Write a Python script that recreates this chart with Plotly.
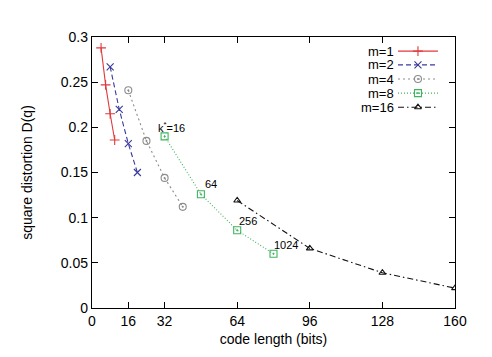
import plotly.graph_objects as go

# ---- data ----
names = ["m=1", "m=2", "m=4", "m=8", "m=16"]
x_m1 = [4, 6, 8, 10]
y_m1 = [0.288, 0.247, 0.215, 0.186]
x_m2 = [8, 12, 16, 20]
y_m2 = [0.267, 0.220, 0.182, 0.150]
x_m4 = [16, 24, 32, 40]
y_m4 = [0.241, 0.185, 0.144, 0.112]
x_m8 = [32, 48, 64, 80]
y_m8 = [0.190, 0.126, 0.086, 0.060]
x_m16 = [64, 96, 128, 160]
y_m16 = [0.119, 0.066, 0.039, 0.022]
k_labels = ["k<sup>*</sup>=16", "64", "256", "1024"]
x_ticks = [0, 16, 32, 64, 96, 128, 160]
y_ticks = [0, 0.05, 0.1, 0.15, 0.2, 0.25, 0.3]
y_tick_text = ["0", "0.05", "0.1", "0.15", "0.2", "0.25", "0.3"]

xs = [x_m1, x_m2, x_m4, x_m8, x_m16]
ys = [y_m1, y_m2, y_m4, y_m8, y_m16]
colors = ["#e0393b", "#3a3a9e", "#8c8c8c", "#3fb45f", "#111111"]
dashes = ["solid", "5px,3px", "2px,3px", "1px,2px", "6px,3px,1.5px,3px"]
symbols = ["cross-thin-open", "x-thin-open", "circle-open-dot", "square-open-dot", "triangle-up-open"]
msizes = [7, 7, 7, 7, 6]
font = "Liberation Sans, Arial, sans-serif"

fig = go.Figure()
for n, x, y, c, d, s, ms in zip(names, xs, ys, colors, dashes, symbols, msizes):
    fig.add_trace(go.Scatter(
        x=x, y=y, name=n, mode="lines+markers",
        line=dict(color=c, width=1.1, dash=d),
        marker=dict(symbol=s, size=ms, color=c, line=dict(color=c, width=1.1)),
        showlegend=False,
    ))

# custom gnuplot-style legend (text left, sample right)
row_y = [0.948, 0.897, 0.845, 0.793, 0.741]
for n, c, d, s, ms, ry in zip(names, colors, dashes, symbols, msizes, row_y):
    fig.add_trace(go.Scatter(
        x=[0.843, 0.953], y=[ry, ry], mode="lines",
        xaxis="x2", yaxis="y2", showlegend=False, hoverinfo="skip",
        line=dict(color=c, width=1.1, dash=d),
    ))
    fig.add_trace(go.Scatter(
        x=[0.898], y=[ry], mode="markers",
        xaxis="x2", yaxis="y2", showlegend=False, hoverinfo="skip",
        marker=dict(symbol=s, size=ms, color=c, line=dict(color=c, width=1.1)),
    ))
    fig.add_annotation(x=0.838, y=ry, xref="x2", yref="y2", text=n, showarrow=False,
                       xanchor="right", yanchor="middle",
                       font=dict(family=font, size=13, color="#000"))

# point labels on m=8 series
offsets = [(7, 9), (10, 10), (11, 9), (12, 9)]
for lab, x, y, (dx, dy) in zip(k_labels, x_m8, y_m8, offsets):
    fig.add_annotation(x=x, y=y, text=lab, showarrow=False, xanchor="center",
                       yanchor="middle", xshift=dx, yshift=dy,
                       font=dict(family=font, size=11, color="#000"))

axis_common = dict(showline=True, linecolor="#000", linewidth=1.3, mirror="ticks",
                   ticks="inside", ticklen=6, tickcolor="#000", tickwidth=1,
                   showgrid=False, zeroline=False,
                   tickfont=dict(family=font, size=14, color="#000"))

# page body has an 8px margin, so the figure is offset by 8px
fig.update_layout(
    width=484, height=349,
    margin=dict(l=84, r=37, t=29, b=45),
    paper_bgcolor="white", plot_bgcolor="white",
    font=dict(family=font, size=14, color="#000"),
    xaxis=dict(range=[0, 160], tickvals=x_ticks, ticktext=[str(v) for v in x_ticks],
               title=dict(text="code length (bits)", standoff=6,
                          font=dict(family=font, size=14)), **axis_common),
    yaxis=dict(range=[0, 0.3], tickvals=y_ticks, ticktext=y_tick_text,
               title=dict(text="square distortion D(q)", standoff=24,
                          font=dict(family=font, size=14)), **axis_common),
    xaxis2=dict(overlaying="x", range=[0, 1], visible=False),
    yaxis2=dict(overlaying="y", range=[0, 1], visible=False),
    showlegend=False,
)

fig.write_html("out.html")
